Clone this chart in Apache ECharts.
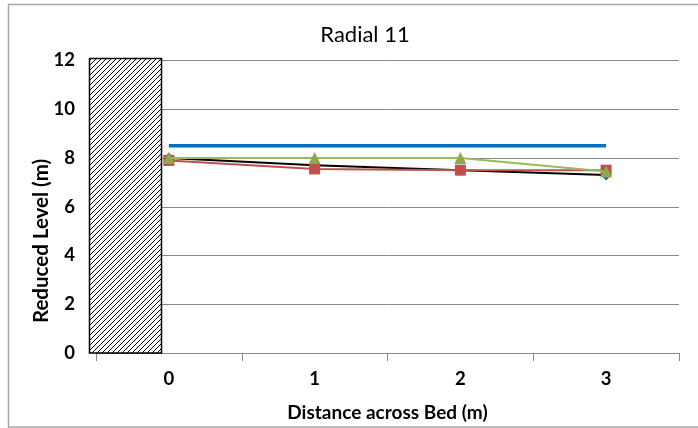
<!DOCTYPE html>
<html>
<head>
<meta charset="utf-8">
<script src="https://cdn.jsdelivr.net/npm/echarts@6/dist/echarts.min.js"></script>
<style>html,body{margin:0;padding:0;background:#fff}#c{width:698px;height:428px}</style>
</head>
<body>
<div id="c"></div>
<script>
const categories = ['0', '1', '2', '3'];
const seriesBlack = [8.0, 7.7, 7.5, 7.3];
const seriesRed = [7.9, 7.55, 7.5, 7.5];
const seriesGreen = [8.0, 8.0, 8.0, 7.45];
const seriesBlue = [8.5, 8.5, 8.5, 8.5];
const yTicks = [0, 2, 4, 6, 8, 10, 12];

const FONT = 'Lato';
const chart = echarts.init(document.getElementById('c'), null, {renderer: 'canvas'});

// hatch pattern
const pc = document.createElement('canvas');
pc.width = 5; pc.height = 5;
const pctx = pc.getContext('2d');
pctx.fillStyle = '#fff'; pctx.fillRect(0, 0, 5, 5);
pctx.strokeStyle = '#000'; pctx.lineWidth = 1;
pctx.beginPath();
pctx.moveTo(-1, 6); pctx.lineTo(6, -1);
pctx.moveTo(-1, 1); pctx.lineTo(1, -1);
pctx.moveTo(4, 6); pctx.lineTo(6, 4);
pctx.stroke();

const option = {
  animation: false,
  backgroundColor: '#fff',
  title: {
    text: 'Radial 11', left: 360, top: 19, textAlign: 'center',
    textStyle: {fontFamily: FONT, fontSize: 22, fontWeight: 'normal', color: '#000'}
  },
  grid: {left: 96, right: 19, top: 60.5, bottom: 75, containLabel: false},
  xAxis: {
    type: 'category', data: categories, boundaryGap: true,
    name: 'Distance across Bed (m)', nameLocation: 'middle', nameGap: 50,
    nameTextStyle: {fontFamily: FONT, fontSize: 19, fontWeight: 'bold', color: '#000'},
    axisLine: {lineStyle: {color: '#888', width: 1}},
    axisTick: {show: true, length: 8, alignWithLabel: false, lineStyle: {color: '#888'}},
    axisLabel: {fontFamily: FONT, fontSize: 18.5, fontWeight: 'bold', color: '#000', margin: 17},
    splitLine: {show: false}
  },
  yAxis: {
    type: 'value', min: 0, max: 12, interval: 2,
    axisLine: {show: false}, axisTick: {show: false},
    axisLabel: {fontFamily: FONT, fontSize: 18.5, fontWeight: 'bold', color: '#000', margin: 21,
      formatter: v => yTicks.includes(v) ? String(v) : ''},
    splitLine: {lineStyle: {color: '#888', width: 1}}
  },
  series: [
    {type: 'line', data: seriesBlack, symbol: 'diamond', symbolSize: 11,
      lineStyle: {color: '#000', width: 2}, itemStyle: {color: '#1F5FA8'}, z: 2},
    {type: 'line', data: seriesRed, symbol: 'rect', symbolSize: 11,
      lineStyle: {color: '#C0504D', width: 2}, itemStyle: {color: '#C0504D'}, z: 3},
    {type: 'line', data: seriesGreen, symbol: 'triangle', symbolSize: 12,
      lineStyle: {color: '#9BBB59', width: 2}, itemStyle: {color: '#8AAA4C'}, z: 4},
    {type: 'line', data: seriesBlue, symbol: 'none',
      lineStyle: {color: '#0070C0', width: 3.5}, z: 5}
  ],
  graphic: [
    {type: 'rect', shape: {x: 8.5, y: 4.5, width: 700, height: 422.5},
      style: {fill: null, stroke: '#A6A6A6', lineWidth: 1.5}, z: 0, silent: true},
    {type: 'rect', shape: {x: 89.5, y: 58.5, width: 72, height: 294.5},
      style: {fill: {image: pc, repeat: 'repeat'}, stroke: '#000', lineWidth: 1.5}, z: 100, silent: true},
    {type: 'text', x: 41, y: 241, rotation: Math.PI / 2,
      style: {text: 'Reduced Level (m)', fontFamily: FONT, fontSize: 20.5, fontWeight: 'bold',
        fill: '#000', align: 'center', verticalAlign: 'middle'}, z: 100}
  ]
};
chart.setOption(option);
</script>
</body>
</html>
